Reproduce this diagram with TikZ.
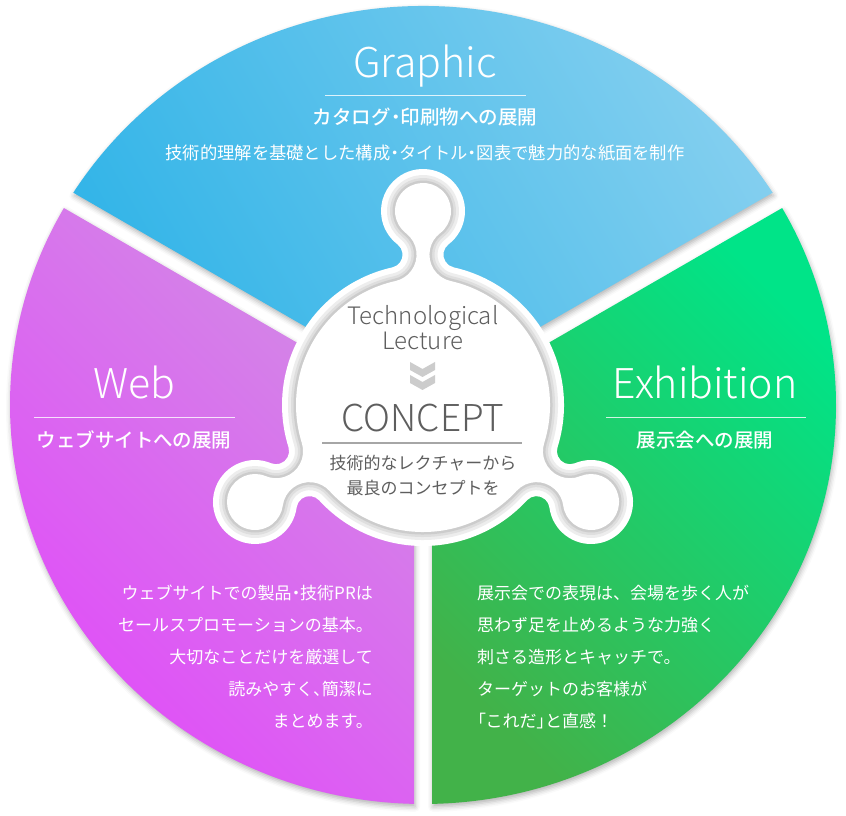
\documentclass[tikz,border=0pt]{standalone}
\usepackage{fontspec}
\setmainfont{Noto Sans CJK JP}
\IfFontExistsTF{Noto Sans CJK JP Light}
  {\newfontfamily\leger{Noto Sans CJK JP Light}}
  {\newfontfamily\leger{Noto Sans CJK JP}}
\IfFontExistsTF{Noto Sans CJK JP Medium}
  {\newfontfamily\moyen{Noto Sans CJK JP Medium}}
  {\newfontfamily\moyen{Noto Sans CJK JP}[FakeBold=1]}
\newfontfamily\propre{Noto Sans CJK JP}[RawFeature=+palt]
\newcommand\pdot{{\propre ・}}
\usetikzlibrary{shadows.blur}

\definecolor{graphicA}{HTML}{34B5E8}
\definecolor{graphicB}{HTML}{84CFEF}
\definecolor{webA}{HTML}{E247FA}
\definecolor{webB}{HTML}{D28BE5}
\definecolor{expoA}{HTML}{42B249}
\definecolor{expoB}{HTML}{00E488}
\definecolor{gristexte}{HTML}{5E5E5E}

% lobe de la forme centrale : #1 angle, #2 retrait
\newcommand\lobe[2]{arc[start angle=#1+167.47,end angle=#1+37.43,radius=13+#2]
  arc[start angle=#1-142.57,end angle=#1+142.57,radius=42-#2]
  arc[start angle=#1-37.43,end angle=#1-167.47,radius=13+#2]}
\newcommand\forme[1]{(102.53:{141-#1})
  arc[start angle=102.53,end angle=197.47,radius=141-#1] \lobe{210}{#1}
  arc[start angle=222.53,end angle=317.47,radius=141-#1] \lobe{330}{#1}
  arc[start angle=342.53,end angle=437.47,radius=141-#1] \lobe{450}{#1} -- cycle}

\tikzset{
  secteur/.style={blur shadow={shadow xshift=1pt,shadow yshift=-3pt,shadow opacity=30,shadow blur radius=5pt}},
  titre/.style={text=white,anchor=base,inner sep=0pt,font=\leger\fontsize{41}{48}\selectfont},
  filet/.style={white,opacity=.8,line width=1pt},
  sous/.style={text=white,inner sep=0pt,font=\moyen\fontsize{19.5}{24}\selectfont},
  texte/.style={text=white,inner sep=0pt,font=\fontsize{17}{20}\selectfont},
  centre/.style={text=gristexte,inner sep=0pt},
  chevron/.style={fill=gray!40}
}

\begin{document}
\begin{tikzpicture}[x=1pt,y=1pt,line join=round]
  % Cadre
  \useasboundingbox (0,0) rectangle (846,816);

  % Secteurs
  \path[secteur,top color=graphicA,bottom color=graphicB,shading angle=120]
    (423,421.4) -- (73.3,623.3) arc[start angle=147.85,end angle=32.15,x radius=413,y radius=399] -- cycle;
  \path[secteur,top color=webA,bottom color=webB,shading angle=135]
    (414,405.8) -- (63.9,607.96) arc[start angle=150.42,end angle=268.75,x radius=413,y radius=399] -- cycle;
  \path[secteur,top color=expoA,bottom color=expoB,shading angle=135]
    (432,405.8) -- (432,12.1) arc[start angle=271.25,end angle=389.58,x radius=413,y radius=399] -- cycle;

  % Forme centrale
  \begin{scope}[shift={(423,411)}]
    \fill[white] \forme{0};
    \draw[gray!14,line width=16pt] \forme{14};
    \draw[gray!26,line width=10pt] \forme{14};
    \draw[gray!40,line width=5pt] \forme{14};
    \fill[white] \forme{14};
  \end{scope}

  % Graphic
  \node[titre] (graphic) at (425,738) {Graphic};
  \draw[filet] (325,720) -- (526,720);
  \node[sous] (graphic-sous) at (425,699) {カタログ\pdot 印刷物への展開};
  \node[texte,font=\fontsize{17.3}{20}\selectfont] (graphic-texte) at (425,663) {技術的理解を基礎とした構成\pdot タイトル\pdot 図表で魅力的な紙面を制作};

  % Web
  \node[titre] (web) at (134,417) {Web};
  \draw[filet] (34,398) -- (235,398);
  \node[sous] (web-sous) at (134,376) {ウェブサイトへの展開};
  \foreach \ligne [count=\i] in {ウェブサイトでの製品\pdot 技術PRは,セールスプロモーションの基本。,大切なことだけを厳選して,読みやすく{\propre 、}簡潔に,まとめます。}
    \node[texte,anchor=east] (web-\i) at (373,255-32*\i) {\ligne};

  % Exhibition
  \node[titre] (expo) at (705,417) {Exhibition};
  \draw[filet] (606,398) -- (806,398);
  \node[sous] (expo-sous) at (705,376) {展示会への展開};
  \foreach \ligne [count=\i] in {展示会での表現は、会場を歩く人が,思わず足を止めるような力強く,刺さる造形とキャッチで。,ターゲットのお客様が,{\propre 「}これだ{\propre 」}と直感！}
    \node[texte,anchor=west] (expo-\i) at (477,255-32*\i) {\ligne};

  % Concept
  \node[centre,anchor=base,font=\leger\fontsize{24}{28}\selectfont] (techno) at (423,491) {Technological};
  \node[centre,anchor=base,font=\leger\fontsize{24}{28}\selectfont] (lecture) at (423,466) {Lecture};
  \foreach \y in {454,441}
    \fill[chevron] (410,\y) -- (422.5,\y-7) -- (435,\y) -- (435,\y-8) -- (422.5,\y-15) -- (410,\y-8) -- cycle;
  \node[centre,anchor=base,font=\leger\fontsize{37}{44}\selectfont] (concept) at (423,384) {CONCEPT};
  \draw[gray!70,line width=1.5pt] (322,373) -- (522,373);
  \node[centre,font=\fontsize{17}{20}\selectfont] (concept-1) at (423,353) {技術的なレクチャーから};
  \node[centre,font=\fontsize{17}{20}\selectfont] (concept-2) at (423,328) {最良のコンセプトを};
\end{tikzpicture}
\end{document}
